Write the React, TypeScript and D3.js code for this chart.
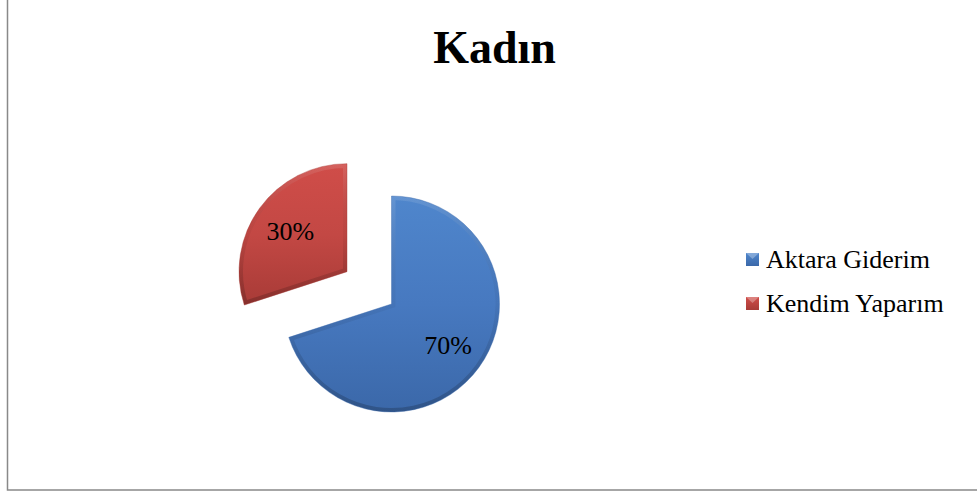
import React from "react";
import * as d3 from "d3";

const titleText = "Kadın";
const categories = ["Aktara Giderim", "Kendim Yaparım"];
const values = [70, 30];
const percentLabels = ["70%", "30%"];
const colorsTop = ["#4f86cc", "#d04d49"];
const colorsMain = ["#4779c0", "#c34844"];
const colorsBottom = ["#3b68a9", "#a83b37"];
const explode = [0, 55];

const W = 977;
const H = 493;
const cx = 391.5;
const cy = 304;
const R = 108;
const labelR = 70;

export default function App() {
  const pie = d3
    .pie<number>()
    .sort(null)
    .startAngle(0)
    .endAngle(2 * Math.PI)(values);
  const arc = d3.arc<d3.PieArcDatum<number>>().innerRadius(0).outerRadius(R);
  const labelArc = d3
    .arc<d3.PieArcDatum<number>>()
    .innerRadius(labelR)
    .outerRadius(labelR);

  return (
    <svg
      width={W}
      height={H}
      style={{ position: "absolute", left: 0, top: 0 }}
      fontFamily="'Liberation Serif', 'Times New Roman', serif"
    >
      <defs>
        {categories.map((c, i) => (
          <linearGradient key={c} id={`g${i}`} x1="0" y1="0" x2="0" y2="1">
            <stop offset="0%" stopColor={colorsTop[i]} />
            <stop offset="50%" stopColor={colorsMain[i]} />
            <stop offset="100%" stopColor={colorsBottom[i]} />
          </linearGradient>
        ))}
        {categories.map((c, i) => (
          <linearGradient key={c + "r"} id={`rim${i}`} x1="0" y1="0" x2="0" y2="1">
            <stop offset="0%" stopColor="#ffffff" stopOpacity={0.12} />
            <stop offset="50%" stopColor="#000000" stopOpacity={0.04} />
            <stop offset="100%" stopColor="#000000" stopOpacity={0.2} />
          </linearGradient>
        ))}
        {pie.map((d, i) => (
          <clipPath key={i} id={`clip${i}`}>
            <path d={arc(d) || ""} />
          </clipPath>
        ))}
        {categories.map((c, i) => (
          <linearGradient key={c + "m"} id={`m${i}`} x1="0" y1="0" x2="0" y2="1">
            <stop offset="0%" stopColor={colorsTop[i]} />
            <stop offset="100%" stopColor={colorsBottom[i]} />
          </linearGradient>
        ))}
      </defs>
      <rect x={7.5} y={-10} width={1000} height={500} fill="#ffffff" stroke="#898989" strokeWidth={1.5} />
      <text
        x={494.5}
        y={63}
        textAnchor="middle"
        fontSize={46}
        fontWeight="bold"
        fill="#000"
      >
        {titleText}
      </text>
      {pie.map((d, i) => {
        const mid = (d.startAngle + d.endAngle) / 2;
        const dx = explode[i] * Math.sin(mid);
        const dy = -explode[i] * Math.cos(mid);
        const [lx, ly] = labelArc.centroid(d);
        return (
          <g key={categories[i]} transform={`translate(${cx + dx},${cy + dy})`}>
            <path d={arc(d) || ""} fill={`url(#g${i})`} />
            <path
              d={arc(d) || ""}
              fill="none"
              stroke={`url(#rim${i})`}
              strokeWidth={8}
              clipPath={`url(#clip${i})`}
            />
            <path d={arc(d) || ""} fill="none" stroke={colorsBottom[i]} strokeOpacity={0.5} strokeWidth={0.8} />
            <text x={lx} y={ly + 9} textAnchor="middle" fontSize={26} fill="#000">
              {percentLabels[i]}
            </text>
          </g>
        );
      })}
      {categories.map((c, i) => {
        const baseline = 268 + i * 44;
        return (
          <g key={c}>
            <rect x={746} y={baseline - 15} width={13} height={13} fill={`url(#m${i})`} />
            <path
              d={`M${746},${baseline - 15} L${759},${baseline - 15} L${752.5},${baseline - 9} Z`}
              fill="#ffffff"
              fillOpacity={0.3}
            />
            <text x={766} y={baseline} fontSize={26} fill="#000">
              {c}
            </text>
          </g>
        );
      })}
    </svg>
  );
}
